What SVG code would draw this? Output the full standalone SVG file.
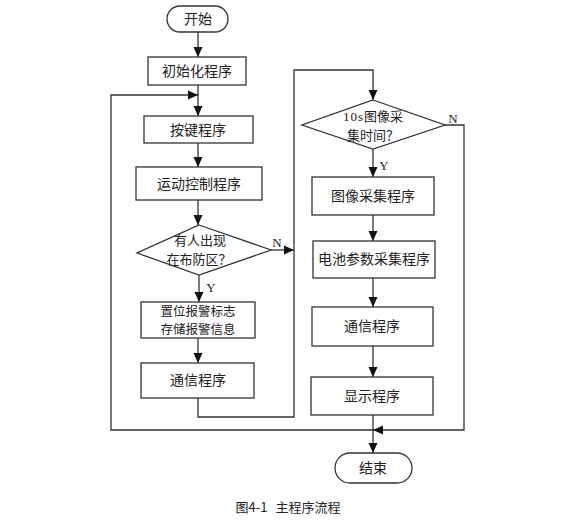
<svg xmlns="http://www.w3.org/2000/svg" width="582" height="529" viewBox="0 0 582 529">
<style>
.b{fill:#fff;stroke:#333;stroke-width:1.3}
.l{fill:none;stroke:#333;stroke-width:1.3}
.a{marker-end:url(#ah)}
.t{font-family:"Noto Sans CJK SC","Liberation Sans",sans-serif;font-size:14px;fill:#222;text-anchor:middle}
.t2{font-family:"Noto Sans CJK SC","Liberation Sans",sans-serif;font-size:13px;fill:#222;text-anchor:middle}
.t3{font-family:"Noto Sans CJK SC","Liberation Sans",sans-serif;font-size:12.5px;fill:#222;text-anchor:middle}
.s{font-family:"Liberation Serif",serif;font-size:13px;fill:#222;text-anchor:middle}
.c{font-family:"Noto Sans CJK SC","Liberation Sans",sans-serif;font-size:13px;fill:#222;text-anchor:middle}
</style>
<defs>
<marker id="ah" markerUnits="userSpaceOnUse" markerWidth="12" markerHeight="12" viewBox="0 0 12 12" refX="11" refY="6" orient="auto">
<path d="M1,1.5 L11,6 L1,10.5 Z" fill="#111"/>
</marker>
</defs>
<rect width="582" height="529" fill="#fff"/>
<g id="connectors">
<line class="l a" x1="198" y1="32" x2="198" y2="57"/>
<line class="l a" x1="198" y1="85" x2="198" y2="116"/>
<polyline class="l a" points="373,430 111,430 111,95 198,95"/>
<line class="l a" x1="198" y1="143" x2="198" y2="167"/>
<line class="l a" x1="198" y1="200" x2="198" y2="225"/>
<line class="l a" x1="271" y1="250" x2="294" y2="250"/>
<line class="l a" x1="199" y1="275" x2="199" y2="302"/>
<line class="l a" x1="198" y1="338" x2="198" y2="363"/>
<polyline class="l a" points="198,398 198,417 294,417 294,70 373,70 373,100"/>
<line class="l a" x1="373" y1="149" x2="373" y2="177"/>
<polyline class="l a" points="445,125 464,125 464,430 373,430"/>
<line class="l a" x1="373" y1="215" x2="373" y2="241"/>
<line class="l a" x1="373" y1="278" x2="373" y2="307"/>
<line class="l a" x1="373" y1="346" x2="373" y2="377"/>
<line class="l a" x1="373" y1="415" x2="373" y2="453"/>
<text class="s" x="277" y="247">N</text>
<text class="s" x="211" y="292">Y</text>
<text class="s" x="453" y="123">N</text>
<text class="s" x="384" y="170">Y</text>
</g>
<g id="start"><rect class="b" x="167" y="6" width="61" height="26" rx="13"/><text class="t" x="198" y="24">开始</text></g>
<g id="init"><rect class="b" x="148" y="57" width="98" height="28"/><text class="t" x="197" y="76">初始化程序</text></g>
<g id="key"><rect class="b" x="144" y="116" width="109" height="27"/><text class="t" x="198" y="135">按键程序</text></g>
<g id="motion"><rect class="b" x="136" y="167" width="126" height="33"/><text class="t" x="199" y="189">运动控制程序</text></g>
<g id="detect"><polygon class="b" points="199,225 271,250 199,275 137,253"/><text class="t2" x="200" y="245">有人出现</text><text class="t2" x="199" y="264">在布防区？</text></g>
<g id="alarm"><rect class="b" x="141" y="302" width="114" height="36"/><text class="t3" x="198" y="316">置位报警标志</text><text class="t3" x="198" y="334">存储报警信息</text></g>
<g id="comm1"><rect class="b" x="141" y="363" width="113" height="35"/><text class="t" x="198" y="385">通信程序</text></g>
<g id="timer"><polygon class="b" points="373,100 445,125 373,149 302,125"/><text class="s" x="373" y="121"><tspan font-family="Liberation Serif" letter-spacing="1">10s</tspan><tspan font-family="Noto Sans CJK SC" font-size="13">图像采</tspan></text><text class="t2" x="373" y="140">集时间？</text></g>
<g id="image"><rect class="b" x="312" y="177" width="122" height="38"/><text class="t" x="373" y="201">图像采集程序</text></g>
<g id="battery"><rect class="b" x="313" y="241" width="122" height="37"/><text class="t" x="374" y="264">电池参数采集程序</text></g>
<g id="comm2"><rect class="b" x="312" y="307" width="121" height="39"/><text class="t" x="372" y="331">通信程序</text></g>
<g id="display"><rect class="b" x="311" y="377" width="122" height="38"/><text class="t" x="372" y="401">显示程序</text></g>
<g id="end"><rect class="b" x="335" y="453" width="77" height="30" rx="15"/><text class="t" x="373" y="473">结束</text></g>
<text class="c" x="288" y="512">图4-1<tspan dx="8">主程序流程</tspan></text>
</svg>
